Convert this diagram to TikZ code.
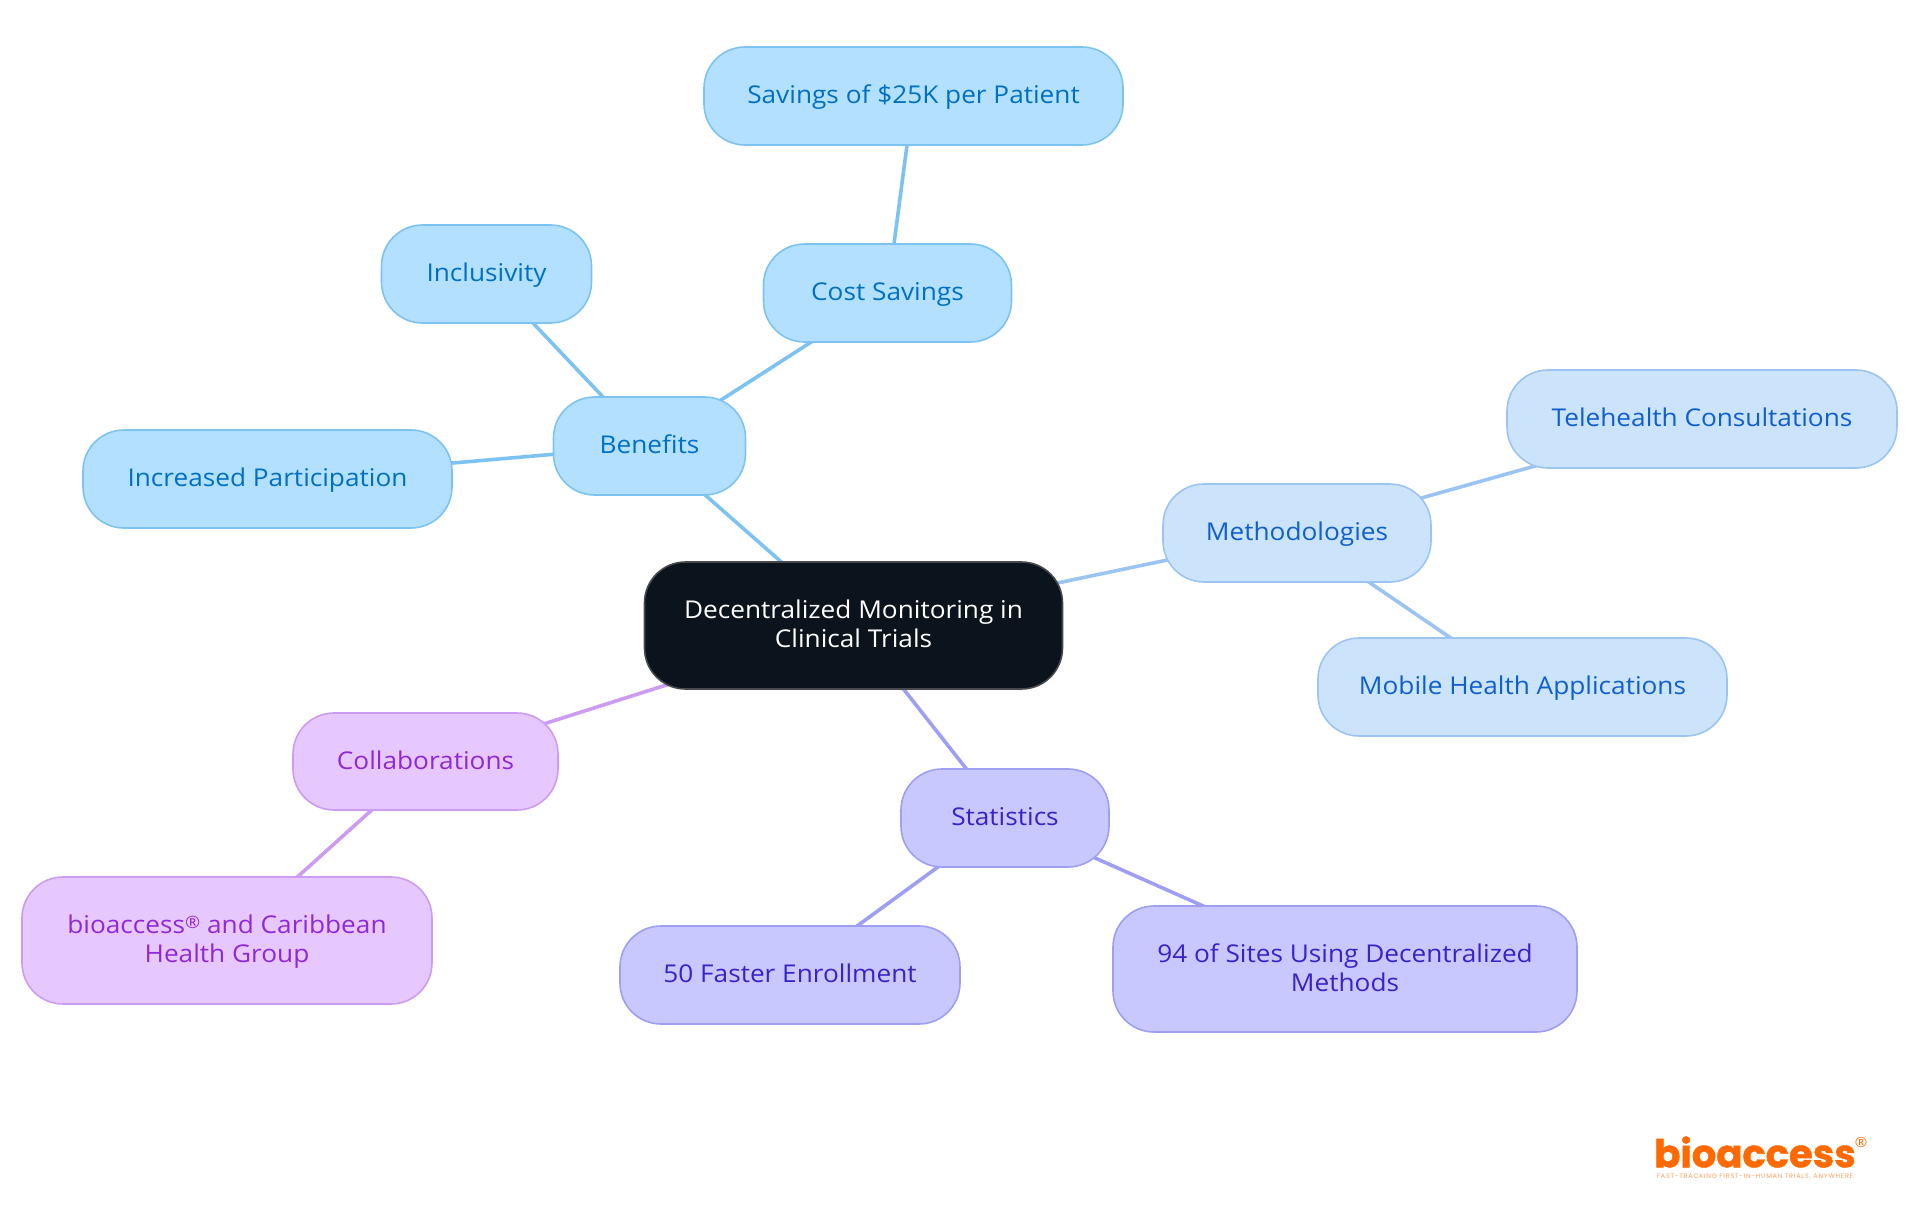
\documentclass[tikz,border=0pt]{standalone}
\usepackage{fontspec}
\setmainfont[FakeStretch=1.07]{Open Sans}
\newfontfamily\logofont[FakeBold=1.2]{Poppins}
\newfontfamily\tagfont[LetterSpace=12]{Poppins}
\usetikzlibrary{backgrounds}
\definecolor{bfill}{HTML}{B3E0FF}\definecolor{bline}{HTML}{7CC3F2}\definecolor{btext}{HTML}{0070C4}
\definecolor{mfill}{HTML}{CCE3FC}\definecolor{mline}{HTML}{9CC4F2}\definecolor{mtext}{HTML}{0F5FCC}
\definecolor{sfill}{HTML}{C8C8FF}\definecolor{sline}{HTML}{9E9EF2}\definecolor{stext}{HTML}{3A22C8}
\definecolor{cfill}{HTML}{E6C8FF}\definecolor{cline}{HTML}{CB9CF2}\definecolor{ctext}{HTML}{9028D8}
\definecolor{rootfill}{HTML}{0B131C}\definecolor{rootline}{HTML}{47494D}
\definecolor{logoorange}{HTML}{FF6A00}
\newcommand{\lst}{\rule[-0.2em]{0pt}{1.04em}}
\tikzset{
  x=1pt,y=-1pt,
  box/.style={rectangle,rounded corners=41pt,line width=1.6pt,inner sep=0pt,align=center,
    font=\fontsize{24.5}{29}\selectfont},
  bnode/.style={box,draw=bline,fill=bfill,text=btext},
  mnode/.style={box,draw=mline,fill=mfill,text=mtext},
  snode/.style={box,draw=sline,fill=sfill,text=stext},
  cnode/.style={box,draw=cline,fill=cfill,text=ctext},
  rootnode/.style={box,draw=rootline,fill=rootfill,text=white},
  bedge/.style={draw=bline,line width=3.6pt},
  medge/.style={draw=mline,line width=3.6pt},
  sedge/.style={draw=sline,line width=3.6pt},
  cedge/.style={draw=cline,line width=3.6pt},
}
\begin{document}
\begin{tikzpicture}
\useasboundingbox (0,0) rectangle (1920,1215);
\node[rootnode,minimum width=418pt,minimum height=127pt] (root) at (853.5,625.5) {\lst Decentralized Monitoring in\\\lst Clinical Trials};
\node[bnode,minimum width=192pt,minimum height=98pt] (benefits) at (649.5,446) {\lst Benefits};
\node[bnode,minimum width=248pt,minimum height=98pt] (cost) at (887.5,293) {\lst Cost Savings};
\node[bnode,minimum width=419pt,minimum height=98pt] (savings) at (913.5,96) {\lst Savings of \$25K per Patient};
\node[bnode,minimum width=210pt,minimum height=98pt] (incl) at (486.5,274) {\lst Inclusivity};
\node[bnode,minimum width=369pt,minimum height=98pt] (incr) at (267.5,479) {\lst Increased Participation};
\node[mnode,minimum width=268pt,minimum height=98pt] (meth) at (1297,533) {\lst Methodologies};
\node[mnode,minimum width=390pt,minimum height=98pt] (tele) at (1702,419) {\lst Telehealth Consultations};
\node[mnode,minimum width=409pt,minimum height=98pt] (mob) at (1522.5,687) {\lst Mobile Health Applications};
\node[snode,minimum width=208pt,minimum height=98pt] (stat) at (1005,818) {\lst Statistics};
\node[snode,minimum width=340pt,minimum height=98pt] (fast) at (790,975) {\lst 50 Faster Enrollment};
\node[snode,minimum width=464pt,minimum height=126pt] (sites) at (1345,969) {\lst 94 of Sites Using Decentralized\\\lst Methods};
\node[cnode,minimum width=265pt,minimum height=97pt] (coll) at (425.5,761.5) {\lst Collaborations};
\node[cnode,minimum width=410pt,minimum height=127pt] (bio) at (227,940.5) {\lst bioaccess\raisebox{0.4ex}{\fontsize{17}{17}\selectfont®} and Caribbean\\\lst Health Group};
\node[inner sep=0pt,text=logoorange,font=\logofont\bfseries\fontsize{38.5}{39}\selectfont] (logo) at (1755,1152) {bioaccess};
\node[inner sep=0pt,text=logoorange,font=\fontsize{14}{14}\selectfont] (logor) at (1861,1142) {®};
\node[inner sep=0pt,text=logoorange!65,font=\tagfont\fontsize{6.5}{7}\selectfont] (tag) at (1755,1177) {FAST-TRACKING FIRST-IN-HUMAN TRIALS, ANYWHERE};
\begin{scope}[on background layer]
\draw[bedge] (root.center) -- (benefits.center);
\draw[bedge] (benefits.center) -- (cost.center);
\draw[bedge] (cost.center) -- (savings.center);
\draw[bedge] (benefits.center) -- (incl.center);
\draw[bedge] (benefits.center) -- (incr.center);
\draw[medge] (root.center) -- (meth.center);
\draw[medge] (meth.center) -- (tele.center);
\draw[medge] (meth.center) -- (mob.center);
\draw[sedge] (root.center) -- (stat.center);
\draw[sedge] (stat.center) -- (fast.center);
\draw[sedge] (stat.center) -- (sites.center);
\draw[cedge] (root.center) -- (coll.center);
\draw[cedge] (coll.center) -- (bio.center);
\end{scope}
\end{tikzpicture}
\end{document}
